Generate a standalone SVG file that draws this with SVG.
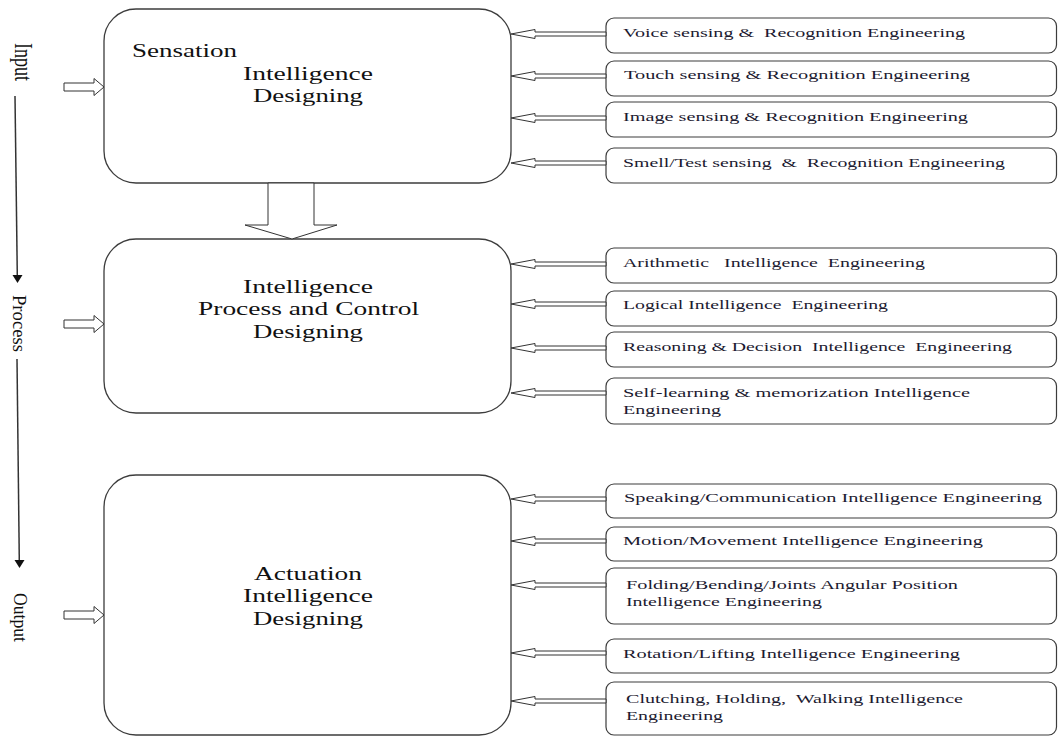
<svg xmlns="http://www.w3.org/2000/svg" width="1058" height="736" viewBox="0 0 1058 736" xml:space="preserve">
<style>
.main{fill:#fff;stroke:#3c3c3c;stroke-width:1.3}
.side{fill:#fff;stroke:#3c3c3c;stroke-width:1.2}
.mt{font-family:"Liberation Serif","Times New Roman",serif;font-size:18px;fill:#111}
.st{font-family:"Liberation Serif","Times New Roman",serif;font-size:13px;fill:#1c1a30;white-space:pre}
.lt{font-family:"Liberation Serif","Times New Roman",serif;font-size:18px;fill:#111}
.harrow{fill:#fff;stroke:#333;stroke-width:1}
.flow{stroke:#333;stroke-width:1.5;fill:none}
.head{fill:#111;stroke:none}
</style>
<rect width="1058" height="736" fill="#fff"/>
<g id="axis">
<text class="lt" transform="translate(15,43) scale(1.4,1) rotate(90)" textLength="38" lengthAdjust="spacingAndGlyphs">Input</text>
<line class="flow" x1="15" y1="96" x2="17.3" y2="276"/>
<polygon class="head" points="12.5,275 22.5,275 17.5,283"/>
<text class="lt" transform="translate(13,295) rotate(90)" textLength="57" lengthAdjust="spacingAndGlyphs">Process</text>
<line class="flow" x1="17" y1="359" x2="19.3" y2="561"/>
<polygon class="head" points="14.5,560 24.5,560 19.5,568"/>
<text class="lt" transform="translate(14,593) rotate(90)" textLength="49" lengthAdjust="spacingAndGlyphs">Output</text>
</g>
<g id="sensation">
<rect class="main" x="104" y="9" width="407" height="174" rx="32"/>
<text class="mt" x="132" y="57" textLength="105" lengthAdjust="spacingAndGlyphs">Sensation</text>
<text class="mt" x="243" y="80" textLength="130" lengthAdjust="spacingAndGlyphs">Intelligence</text>
<text class="mt" x="253" y="102" textLength="110" lengthAdjust="spacingAndGlyphs">Designing</text>
</g>
<g id="process">
<rect class="main" x="104" y="239" width="407" height="174" rx="32"/>
<text class="mt" x="243" y="293" textLength="130" lengthAdjust="spacingAndGlyphs">Intelligence</text>
<text class="mt" x="198" y="315" textLength="221" lengthAdjust="spacingAndGlyphs">Process and Control</text>
<text class="mt" x="253" y="338" textLength="110" lengthAdjust="spacingAndGlyphs">Designing</text>
</g>
<g id="actuation">
<rect class="main" x="104" y="475" width="407" height="260" rx="32"/>
<text class="mt" x="254" y="580" textLength="108" lengthAdjust="spacingAndGlyphs">Actuation</text>
<text class="mt" x="243" y="602" textLength="130" lengthAdjust="spacingAndGlyphs">Intelligence</text>
<text class="mt" x="253" y="625" textLength="110" lengthAdjust="spacingAndGlyphs">Designing</text>
</g>
<g id="voice"><rect class="side" x="606" y="18" width="450.5" height="35" rx="8"/><text class="st" xml:space="preserve" x="623" y="37" textLength="342" lengthAdjust="spacingAndGlyphs">Voice sensing &amp;  Recognition Engineering</text></g>
<g id="touch"><rect class="side" x="606" y="61" width="450.5" height="35" rx="8"/><text class="st" x="624" y="79" textLength="346" lengthAdjust="spacingAndGlyphs">Touch sensing &amp; Recognition Engineering</text></g>
<g id="image"><rect class="side" x="606" y="102" width="450.5" height="35" rx="8"/><text class="st" x="623" y="121" textLength="345" lengthAdjust="spacingAndGlyphs">Image sensing &amp; Recognition Engineering</text></g>
<g id="smell"><rect class="side" x="606" y="148" width="450.5" height="35" rx="8"/><text class="st" xml:space="preserve" x="623" y="167" textLength="382" lengthAdjust="spacingAndGlyphs">Smell/Test sensing  &amp;  Recognition Engineering</text></g>
<g id="arithmetic"><rect class="side" x="606" y="248" width="450.5" height="35" rx="8"/><text class="st" xml:space="preserve" x="623" y="267" textLength="302" lengthAdjust="spacingAndGlyphs">Arithmetic   Intelligence  Engineering</text></g>
<g id="logical"><rect class="side" x="606" y="291" width="450.5" height="35" rx="8"/><text class="st" xml:space="preserve" x="623" y="309" textLength="265" lengthAdjust="spacingAndGlyphs">Logical Intelligence  Engineering</text></g>
<g id="reasoning"><rect class="side" x="606" y="332" width="450.5" height="35" rx="8"/><text class="st" xml:space="preserve" x="623" y="351" textLength="389" lengthAdjust="spacingAndGlyphs">Reasoning &amp; Decision  Intelligence  Engineering</text></g>
<g id="selflearning"><rect class="side" x="606" y="378" width="450.5" height="46" rx="8"/><text class="st" x="623" y="397" textLength="347" lengthAdjust="spacingAndGlyphs">Self-learning &amp; memorization Intelligence</text><text class="st" x="623" y="414" textLength="98" lengthAdjust="spacingAndGlyphs">Engineering</text></g>
<g id="speaking"><rect class="side" x="606" y="484" width="450.5" height="34" rx="8"/><text class="st" x="624" y="502" textLength="418" lengthAdjust="spacingAndGlyphs">Speaking/Communication Intelligence Engineering</text></g>
<g id="motion"><rect class="side" x="606" y="527" width="450.5" height="34" rx="8"/><text class="st" x="623" y="545" textLength="360" lengthAdjust="spacingAndGlyphs">Motion/Movement Intelligence Engineering</text></g>
<g id="folding"><rect class="side" x="606" y="568" width="450.5" height="56" rx="8"/><text class="st" x="626" y="589" textLength="332" lengthAdjust="spacingAndGlyphs">Folding/Bending/Joints Angular Position</text><text class="st" x="626" y="606" textLength="196" lengthAdjust="spacingAndGlyphs">Intelligence Engineering</text></g>
<g id="rotation"><rect class="side" x="606" y="639" width="450.5" height="34" rx="8"/><text class="st" x="623" y="658" textLength="337" lengthAdjust="spacingAndGlyphs">Rotation/Lifting Intelligence Engineering</text></g>
<g id="clutching"><rect class="side" x="606" y="682" width="450.5" height="53" rx="8"/><text class="st" xml:space="preserve" x="626" y="703" textLength="337" lengthAdjust="spacingAndGlyphs">Clutching, Holding,  Walking Intelligence</text><text class="st" x="626" y="720" textLength="97" lengthAdjust="spacingAndGlyphs">Engineering</text></g>
<g id="connectors">
<polygon class="harrow" points="64,83 94,83 94,78.5 104,87 94,95.5 94,91 64,91"/>
<polygon class="harrow" points="64,320 94,320 94,315.5 104,324 94,332.5 94,328 64,328"/>
<polygon class="harrow" points="64,611 94,611 94,606.5 104,615 94,623.5 94,619 64,619"/>
<polygon class="harrow" points="268,183 268,225 245,225 292,239 337,225 314,225 314,183"/>
<polygon class="harrow" points="511,34 535,29.5 535,32 606,32 606,36 535,36 535,38.5"/>
<polygon class="harrow" points="511,76 535,71.5 535,74 606,74 606,78 535,78 535,80.5"/>
<polygon class="harrow" points="511,118 535,113.5 535,116 606,116 606,120 535,120 535,122.5"/>
<polygon class="harrow" points="511,163 535,158.5 535,161 606,161 606,165 535,165 535,167.5"/>
<polygon class="harrow" points="511,264 535,259.5 535,262 606,262 606,266 535,266 535,268.5"/>
<polygon class="harrow" points="511,304 535,299.5 535,302 606,302 606,306 535,306 535,308.5"/>
<polygon class="harrow" points="511,348 535,343.5 535,346 606,346 606,350 535,350 535,352.5"/>
<polygon class="harrow" points="511,393 535,388.5 535,391 606,391 606,395 535,395 535,397.5"/>
<polygon class="harrow" points="511,499 535,494.5 535,497 606,497 606,501 535,501 535,503.5"/>
<polygon class="harrow" points="511,541 535,536.5 535,539 606,539 606,543 535,543 535,545.5"/>
<polygon class="harrow" points="511,585 535,580.5 535,583 606,583 606,587 535,587 535,589.5"/>
<polygon class="harrow" points="511,653 535,648.5 535,651 606,651 606,655 535,655 535,657.5"/>
<polygon class="harrow" points="511,701 535,696.5 535,699 606,699 606,703 535,703 535,705.5"/>
</g>
</svg>
